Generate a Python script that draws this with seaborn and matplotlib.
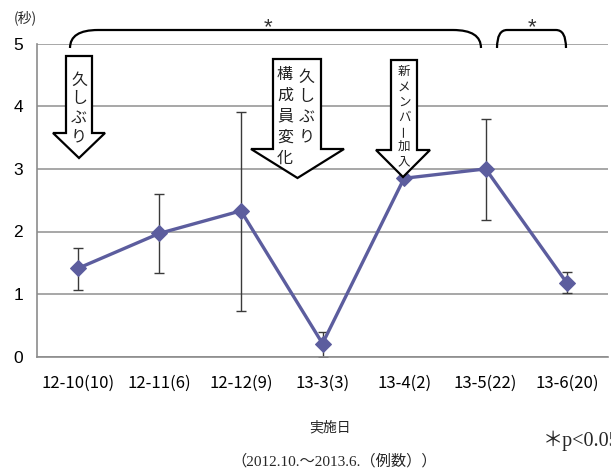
import numpy as np
import pandas as pd
import seaborn as sns
import matplotlib
matplotlib.use("Agg")
import matplotlib.pyplot as plt
from matplotlib.path import Path
from matplotlib.patches import PathPatch, Polygon
from matplotlib.transforms import Affine2D

# Mean response time per session (seconds) with error bounds
sessions = ["12-10(10)", "12-11(6)", "12-12(9)", "13-3(3)", "13-4(2)", "13-5(22)", "13-6(20)"]
mean_sec = [1.41, 1.97, 2.33, 0.21, 2.85, 3.00, 1.17]
err_low = [1.07, 1.34, 0.73, 0.00, np.nan, 2.18, 1.01]
err_high = [1.74, 2.60, 3.91, 0.39, np.nan, 3.80, 1.36]
y_ticks = [0, 1, 2, 3, 4, 5]

sns.set_theme(style="white")
plt.rcParams["font.family"] = ["Noto Sans CJK JP", "DejaVu Sans"]

W, H = 611, 468
fig = plt.figure(figsize=(W / 100, H / 100), dpi=100)
ax = fig.add_axes([37 / W, 1 - 356.7 / H, 571 / W, 313 / H])

df = pd.DataFrame({"pos": np.arange(len(sessions)), "sec": mean_sec,
                   "lo": err_low, "hi": err_high})

line_col = "#5C5D9E"
# Error bars behind the line
ok = df.dropna()
ax.errorbar(ok["pos"], ok["sec"],
            yerr=[ok["sec"] - ok["lo"], ok["hi"] - ok["sec"]],
            fmt="none", ecolor="#3a3a3a", elinewidth=1.0, capsize=3.3,
            capthick=1.0, zorder=2)
sns.lineplot(data=df, x="pos", y="sec", sort=False, ax=ax, color=line_col,
             linewidth=2.4, marker="D", markersize=8, markeredgecolor=line_col,
             zorder=3)

ax.set_xlim(-0.5, len(sessions) - 0.5)
ax.set_ylim(0, 5)
ax.set_yticks(y_ticks)
ax.set_yticklabels([str(t) for t in y_ticks], family="Liberation Sans", fontsize=12.5)
ax.set_xticks(np.arange(len(sessions)))
ax.set_xticklabels(sessions, fontsize=12)
ax.set_xticks(np.arange(len(sessions) + 1) - 0.5, minor=True)
ax.tick_params(axis="x", which="major", length=0, pad=13, colors="black")
ax.tick_params(axis="x", which="minor", length=4, width=1, color="#888888", direction="out")
ax.tick_params(axis="y", length=5, width=1, color="#888888", direction="out", pad=5, colors="black")
ax.tick_params(axis="y", color="#888888")
ax.set_xlabel("")
ax.set_ylabel("")
ax.yaxis.grid(True, color="#a0a0a0", linewidth=1.3)
ax.set_axisbelow(True)
for s in ["top", "right"]:
    ax.spines[s].set_visible(False)
for s in ["left", "bottom"]:
    ax.spines[s].set_color("#8c8c8c")
    ax.spines[s].set_linewidth(1.2)

# Pixel coordinates (origin top-left) for annotations
px = Affine2D().scale(1 / W, -1 / H).translate(0, 1) + fig.transFigure


def brace(x0, x1, ytop, ybot, r):
    verts = [(x0, ybot), (x0, ytop), (x0 + r, ytop), (x1 - r, ytop), (x1, ytop), (x1, ybot)]
    codes = [Path.MOVETO, Path.CURVE3, Path.CURVE3, Path.LINETO, Path.CURVE3, Path.CURVE3]
    fig.patches.append(PathPatch(Path(verts, codes), transform=px, fill=False,
                                 edgecolor="black", linewidth=1.6))


brace(70, 481, 30, 48, 28)
brace(497, 566, 30, 48, 10)
fig.text(268, 28, "*", transform=px, ha="center", va="center", fontsize=16,
         family="Liberation Sans", color="#333333")
fig.text(532, 28, "*", transform=px, ha="center", va="center", fontsize=16,
         family="Liberation Sans", color="#333333")


def down_arrow(bl, br, top, shoulder, hl, hr, tip_y):
    cx = (hl + hr) / 2
    pts = [(bl, top), (br, top), (br, shoulder), (hr, shoulder), (cx, tip_y),
           (hl, shoulder), (bl, shoulder)]
    fig.patches.append(Polygon(pts, closed=True, transform=px, facecolor="white",
                               edgecolor="black", linewidth=1.6, zorder=5))


def vtext(x, ys, chars, size):
    for y, ch in zip(ys, chars):
        rot = 90 if ch == "ー" else 0
        fig.text(x, y, ch, transform=px, ha="center", va="center", fontsize=size,
                 rotation=rot, color="#222222", zorder=6)


down_arrow(66, 92, 56, 133, 53, 105, 158)
vtext(79, [80, 99, 118, 137], "久しぶり", 11.5)

down_arrow(273, 321, 59, 149, 251, 344, 178)
vtext(306.5, [77, 97, 117, 137], "久しぶり", 11.5)
vtext(285, [74, 95, 116, 137, 158], "構成員変化", 11.5)

down_arrow(391, 417, 60, 150, 376, 430, 177)
vtext(404, [71, 87, 102, 117, 131, 146, 162], "新メンバー加入", 9)

fig.text(25, 18, "(秒)", transform=px, ha="center", va="center", fontsize=10)
fig.text(330, 427, "実施日", transform=px, ha="center", va="center", fontsize=10)
fig.text(543, 441, "＊p<0.05", transform=px, ha="left", va="center", fontsize=14.5,
         family=["Liberation Serif", "Noto Sans CJK JP"])
fig.text(334, 461, "（2012.10.～2013.6.（例数））", transform=px, ha="center", va="center",
         fontsize=11, family=["Liberation Serif", "Noto Sans CJK JP"])

fig.savefig("out.png", dpi=100)
